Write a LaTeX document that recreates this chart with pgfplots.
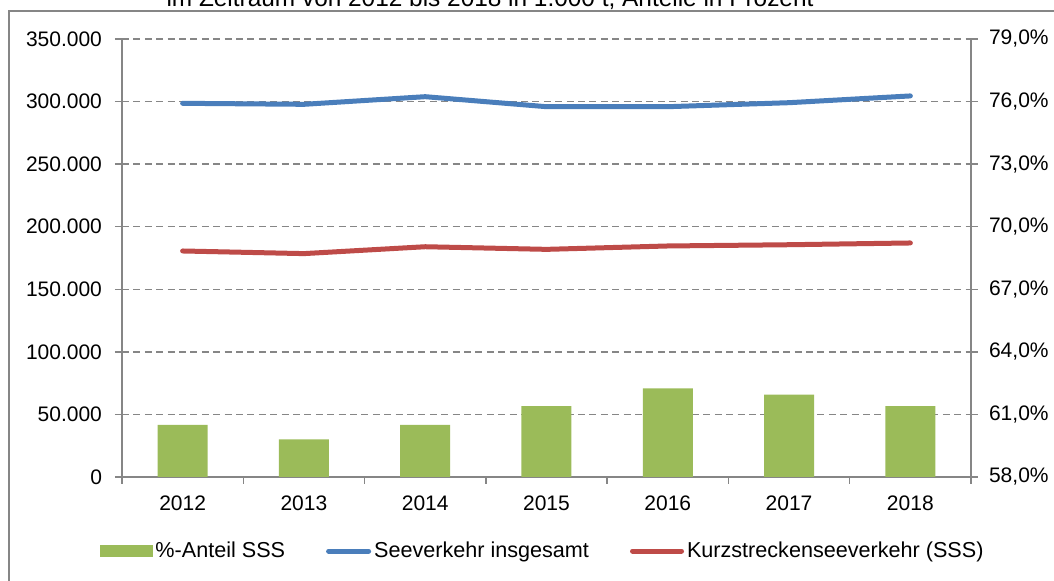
\documentclass[border=0pt]{standalone}
\usepackage{pgfplots}
\pgfplotsset{compat=1.18}
\usepackage{pgfplotstable}
\usepackage{fontspec}
\setmainfont{Liberation Sans}
\definecolor{barg}{HTML}{9BBB59}
\definecolor{lblue}{HTML}{4A7EBB}
\definecolor{lred}{HTML}{BE4B48}
\definecolor{axgray}{HTML}{868686}
\pgfplotstableread{
year share total sss
0 60.5 298600 180600
1 59.8 297800 178500
2 60.5 303900 184000
3 61.4 295900 181900
4 62.25 295900 184600
5 61.95 299100 185600
6 61.4 304500 187000
}\data
\newcommand{\fs}{\fontsize{10.5}{12.6}\selectfont}
\pgfplotsset{
  common/.style={
    scale only axis, width=424.5pt, height=219pt,
    at={(61pt,52pt)}, anchor=south west,
    xmin=-0.5, xmax=6.5,
    /pgf/number format/assume math mode=true,
    tick label style={font=\fs, text=black},
    axis line style={-, axgray, line width=0.75pt},
    tick style={axgray, line width=0.75pt},
    tick align=outside, major tick length=3.5pt,
  }
}
\begin{document}
\begin{tikzpicture}[x=1pt,y=1pt]
\path[use as bounding box] (0,0) rectangle (527,290.5);
\begin{scope}
\clip (0,0) rectangle (527,290.5);
\draw[axgray, line width=0.75pt] (4.5,-10) -- (4.5,285) -- (540,285);
\node[anchor=base, font=\fontsize{12.2}{14}\selectfont, inner sep=0pt] at (245,287.3) {im Zeitraum von 2012 bis 2018 in 1.000 t, Anteile in Prozent};
\end{scope}
% bars, right axis
\begin{axis}[common,
  axis y line*=right, axis x line*=bottom,
  ymin=58, ymax=79, ytick={58,61,...,79},
  yticklabel={\pgfmathprintnumber[fixed,fixed zerofill,precision=1,use comma]{\tick}\%},
  yticklabel style={xshift=2pt},
  ymajorgrids, grid style={axgray, dash pattern=on 3.5pt off 2.2pt, line width=0.75pt},
  xtick={-0.5,0.5,...,6.5}, xticklabels={},
  extra x ticks={0,1,2,3,4,5,6},
  extra x tick labels={2012,2013,2014,2015,2016,2017,2018},
  extra x tick style={tick style={draw=none}, xticklabel style={yshift=-2.5pt}},
]
\addplot[ybar, bar width=25pt, fill=barg, draw=none] table[x=year, y=share] {\data};
\end{axis}
% lines, left axis
\begin{axis}[common,
  axis y line*=left, axis x line=none,
  ymin=0, ymax=350000, ytick={0,50000,...,350000},
  scaled y ticks=false,
  yticklabel={\pgfmathprintnumber[fixed,precision=0,1000 sep={.}]{\tick}},
  yticklabel style={xshift=-3pt},
  legend style={at={(0.496,-0.169)}, anchor=center, draw=none, fill=none,
    font=\fontsize{10.8}{13}\selectfont, legend columns=3,
    /tikz/every even column/.append style={column sep=19pt},
    nodes={inner sep=1.5pt}},
  legend cell align=left,
]
\addlegendimage{legend image code/.code={\fill[barg] (0pt,-2.75pt) rectangle (26pt,2.75pt);}}
\addlegendentry{\%-Anteil SSS}
\addplot[lblue, line width=2.5pt, line join=round, line cap=round,
  legend image code/.code={\draw[lblue,line width=2.5pt,line cap=round] (1.25pt,0pt) -- (21.25pt,0pt);}]
  table[x=year, y=total] {\data};
\addlegendentry{Seeverkehr insgesamt}
\addplot[lred, line width=2.5pt, line join=round, line cap=round,
  legend image code/.code={\draw[lred,line width=2.5pt,line cap=round] (1.25pt,0pt) -- (25.75pt,0pt);}]
  table[x=year, y=sss] {\data};
\addlegendentry{Kurzstreckenseeverkehr (SSS)}
\end{axis}
\end{tikzpicture}
\end{document}
